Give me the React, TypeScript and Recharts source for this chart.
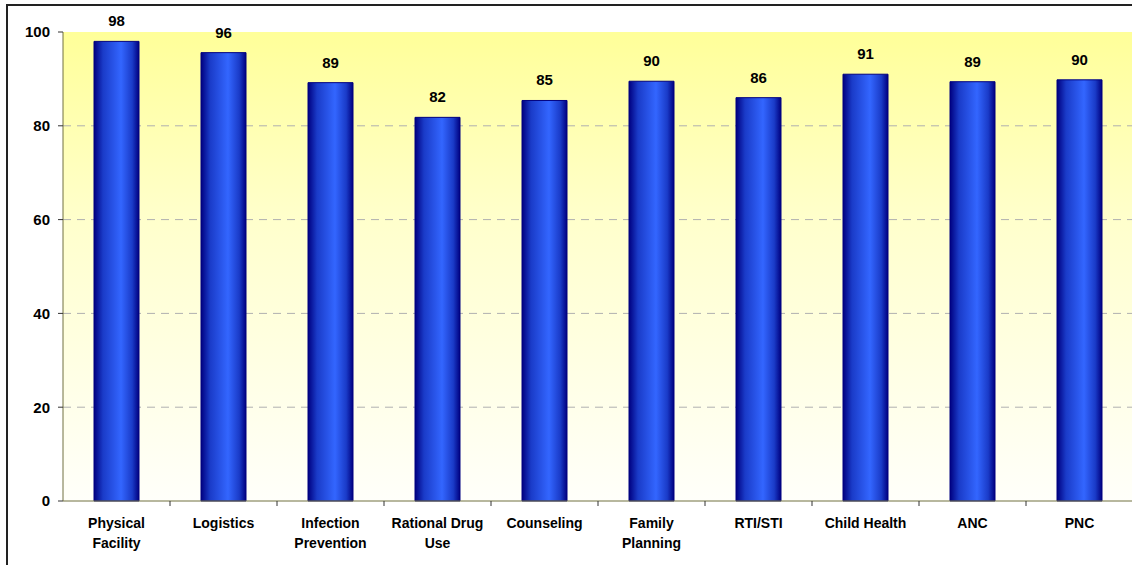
import React from "react";
import { BarChart, Bar, XAxis, YAxis, CartesianGrid, LabelList } from "recharts";

const categories = [
  "Physical\nFacility",
  "Logistics",
  "Infection\nPrevention",
  "Rational Drug\nUse",
  "Counseling",
  "Family\nPlanning",
  "RTI/STI",
  "Child Health",
  "ANC",
  "PNC",
];
const scores = [98.0, 95.6, 89.2, 81.8, 85.4, 89.5, 86.0, 91.0, 89.4, 89.8];
const yTicks = [0, 20, 40, 60, 80, 100];

const data = categories.map((c, i) => ({ name: c, value: scores[i] }));

const FONT = "'Liberation Sans', Arial, sans-serif";

const XTick = (props: any) => {
  const { x, y, payload } = props;
  const half = payload && payload.offset ? payload.offset : 53.5;
  const lines = String(payload.value).split("\n");
  return (
    <g>
      <line x1={x + half} y1={y - 8} x2={x + half} y2={y - 3} stroke="#333" strokeWidth={1} />
      <text x={x} y={y} textAnchor="middle" fontFamily={FONT} fontWeight="bold" fontSize={14} fill="#000">
        {lines.map((l, i) => (
          <tspan key={i} x={x} dy={i === 0 ? 19 : 20}>
            {l}
          </tspan>
        ))}
      </text>
    </g>
  );
};

export default function App() {
  return (
    <div style={{ position: "absolute", left: 0, top: 0, width: 1132, height: 565, overflow: "hidden", background: "#fff" }}>
      <div
        style={{
          position: "absolute",
          left: 6,
          top: 4,
          width: 1200,
          height: 600,
          border: "2px solid #222",
          boxSizing: "border-box",
        }}
      />
      <div style={{ position: "absolute", left: 0, top: 0 }}>
        <BarChart
          width={1140}
          height={565}
          data={data}
          margin={{ top: 32, right: 7, bottom: 0, left: 0 }}
          barCategoryGap={0}
        >
          <defs>
            <linearGradient id="bgGrad" x1="0" y1="0" x2="0" y2="1">
              <stop offset="0%" stopColor="#FFFF99" />
              <stop offset="40%" stopColor="#FFFFCC" />
              <stop offset="100%" stopColor="#FFFFFA" />
            </linearGradient>
            <linearGradient id="barGrad" x1="0" y1="0" x2="1" y2="0">
              <stop offset="0%" stopColor="#000080" />
              <stop offset="20%" stopColor="#1A3BC8" />
              <stop offset="60%" stopColor="#3366FF" />
              <stop offset="85%" stopColor="#1A3BC8" />
              <stop offset="100%" stopColor="#000080" />
            </linearGradient>
          </defs>
          <CartesianGrid
            vertical={false}
            horizontalValues={[20, 40, 60, 80]}
            stroke="#B0B0B0"
            strokeDasharray="8 6"
            fill="url(#bgGrad)"
            fillOpacity={1}
          />
          <XAxis
            dataKey="name"
            interval={0}
            tickLine={false}
            tick={<XTick />}
            axisLine={{ stroke: "#707040", strokeWidth: 1 }}
            height={64}
          />
          <YAxis
            domain={[0, 100]}
            ticks={yTicks}
            width={63}
            tickSize={5}
            tickMargin={8}
            tickLine={{ stroke: "#333" }}
            axisLine={{ stroke: "#707040", strokeWidth: 1 }}
            tick={{ fontFamily: FONT, fontWeight: "bold", fontSize: 15, fill: "#000" }}
          />
          <Bar
            dataKey="value"
            barSize={45}
            fill="url(#barGrad)"
            stroke="#000080"
            strokeWidth={1}
            isAnimationActive={false}
          >
            <LabelList
              dataKey="value"
              position="top"
              offset={15}
              formatter={(v: any) => Math.round(Number(v))}
              style={{ fontFamily: FONT, fontWeight: "bold", fontSize: 15, fill: "#000" }}
            />
          </Bar>
        </BarChart>
      </div>
    </div>
  );
}
